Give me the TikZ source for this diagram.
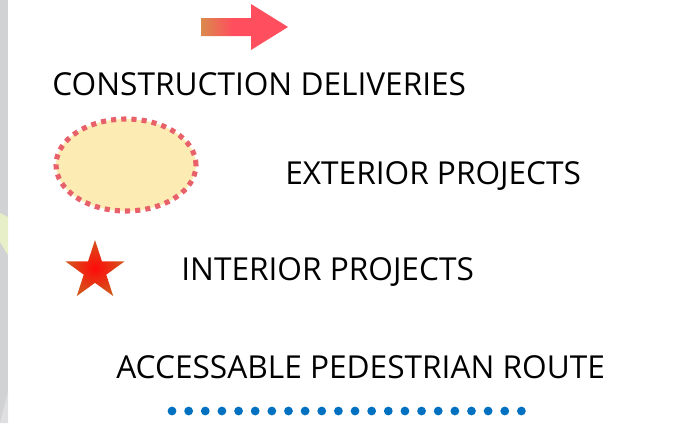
\documentclass[tikz,border=0pt]{standalone}
\usepackage{fontspec}
\setmainfont{Open Sans}
\usetikzlibrary{shapes, positioning, calc}

\definecolor{stripgray}{HTML}{D1D2D4}
\definecolor{stripgreen}{HTML}{E7EFC9}
\definecolor{arrowred}{HTML}{FF4F5E}
\definecolor{arroworange}{HTML}{D98A4C}
\definecolor{extfill}{HTML}{FDEBB4}
\definecolor{extline}{HTML}{E8606A}
\definecolor{starred}{HTML}{FF0A0A}
\definecolor{starrim}{HTML}{D3561C}
\definecolor{routeblue}{HTML}{0070C0}

\pgfdeclarehorizontalshading{delivshade}{100bp}{color(0bp)=(arroworange); color(25bp)=(arroworange);
	color(43bp)=(arrowred); color(100bp)=(arrowred)}

\begin{document}
\begin{tikzpicture}[
					x=0.02cm, y=-0.02cm,
					lbl/.style={anchor=base west, inner sep=0pt, font=\fontsize{18}{20}\selectfont},
					extmark/.style={ellipse, fill=extfill, draw=extline, line width=2.9pt,
						dash pattern=on 2.9pt off 2.9pt, minimum width=2.8cm, minimum height=1.84cm},
					intmark/.style={star, star points=5, star point ratio=2.618, inner sep=0pt,
						minimum size=1.24cm, inner color=starred, outer color=starrim}]
				\useasboundingbox (0,0) rectangle (686,423);
				% left strip
				\fill[stripgray] (0,0) rectangle (8,423);
				\fill[stripgreen] (0,213) -- (8,217) -- (8,255) -- (0,242) -- cycle;
				\fill[stripgray!70!white] (0,423) -- (8,392) -- (8,423) -- cycle;

				% delivery arrow
				\shade[shading=delivshade]
					(201,18) -- (251,18) -- (251,4) -- (288,27) -- (251,50) -- (251,36) -- (201,36) -- cycle;

				\node[lbl] (delivLbl) at (52,95)  {CONSTRUCTION DELIVERIES};
				\node[extmark] (extMark) at (126,165) {};
				\node[lbl] (extLbl)   at (285,184) {EXTERIOR PROJECTS};
				\node[intmark] (intMark) at (95,271) {};
				\node[lbl] (intLbl)   at (181,280) {INTERIOR PROJECTS};
				\node[lbl] (routeLbl) at (116,378) {ACCESSABLE PEDESTRIAN ROUTE};

				% pedestrian route
				\coordinate (routeA) at (172,411);
				\coordinate (routeB) at (524,411);
				\draw[routeblue, line width=5pt, line cap=round, dash pattern=on 0pt off 9.47pt] (routeA) -- (routeB);
			\end{tikzpicture}
\end{document}
